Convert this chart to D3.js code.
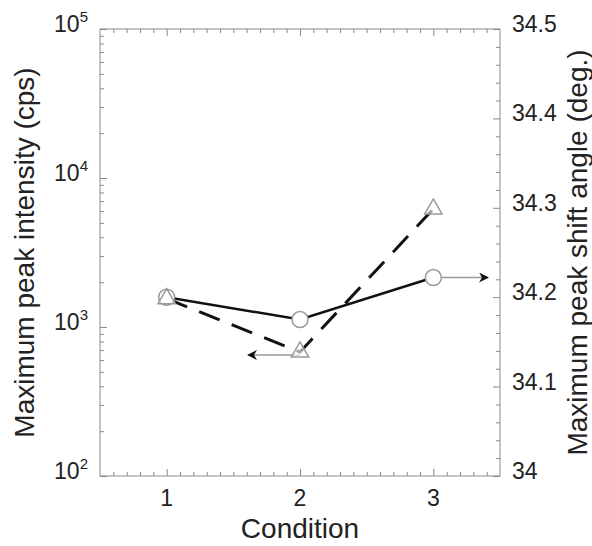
<!DOCTYPE html>
<html>
<head>
<meta charset="utf-8">
<script src="https://cdn.jsdelivr.net/npm/d3@7"></script>
<style>
  body { margin: 0; background: #fff; }
  svg text { font-family: "Liberation Sans", Arial, sans-serif; fill: #222; }
  .axis path { display: none; }
  .axis line { stroke: #8a8a8a; stroke-width: 1; }
</style>
</head>
<body>
<div id="chart"></div>
<script>
// data
const conditions = [1, 2, 3];
const intensity = [1550, 680, 6200];        // left axis, cps (triangles, dashed)
const shiftAngle = [34.2, 34.175, 34.222];  // right axis, deg. (circles, solid)
const xTicks = [1, 2, 3];
const leftTicks = [1e2, 1e3, 1e4, 1e5];
const rightTicks = [34, 34.1, 34.2, 34.3, 34.4, 34.5];

const width = 592, height = 546;
const margin = { top: 29, right: 92, bottom: 70, left: 100 };
const innerW = width - margin.left - margin.right;
const innerH = height - margin.top - margin.bottom;

const svg = d3.select('#chart').append('svg')
  .attr('width', width)
  .attr('height', height);

const plot = svg.append('g')
  .attr('transform', `translate(${margin.left},${margin.top})`);

const x = d3.scaleLinear().domain([0.5, 3.5]).range([0, innerW]);
const yL = d3.scaleLog().domain([1e2, 1e5]).range([innerH, 0]);
const yR = d3.scaleLinear().domain([34, 34.5]).range([innerH, 0]);

// minor tick values
const xMinor = d3.range(6, 35).map(d => d / 10).filter(d => !xTicks.includes(d));
const lMinor = [];
[1e2, 1e3, 1e4].forEach(dec => { for (let k = 2; k <= 9; k++) lMinor.push(dec * k); });
const rMinor = d3.range(0, 26).map(i => 34 + i * 0.02).filter(v => Math.abs(Math.round(v * 10) - v * 10) > 1e-6);

// ticks pointing inward
function tickAxis(axisFn, scale, values, size, transform) {
  plot.append('g')
    .attr('class', 'axis')
    .attr('transform', transform || null)
    .call(axisFn(scale).tickValues(values).tickSize(size).tickFormat(''));
}
tickAxis(d3.axisBottom, x, xTicks, -7, `translate(0,${innerH})`);
tickAxis(d3.axisBottom, x, xMinor, -4, `translate(0,${innerH})`);
tickAxis(d3.axisTop, x, xTicks, -7);
tickAxis(d3.axisTop, x, xMinor, -4);
tickAxis(d3.axisLeft, yL, leftTicks, -7);
tickAxis(d3.axisLeft, yL, lMinor, -4);
tickAxis(d3.axisRight, yR, rightTicks, -7, `translate(${innerW},0)`);
tickAxis(d3.axisRight, yR, rMinor, -4, `translate(${innerW},0)`);

// frame
plot.append('rect')
  .attr('width', innerW)
  .attr('height', innerH)
  .attr('fill', 'none')
  .attr('stroke', '#8a8a8a')
  .attr('stroke-width', 1);

// tick labels
plot.append('g').selectAll('text')
  .data(xTicks)
  .join('text')
  .attr('x', d => x(d))
  .attr('y', innerH + 30)
  .attr('text-anchor', 'middle')
  .attr('font-size', 23)
  .text(d => d);

const leftLabels = plot.append('g').selectAll('text')
  .data(leftTicks)
  .join('text')
  .attr('x', -12)
  .attr('y', d => yL(d) + 3)
  .attr('text-anchor', 'end')
  .attr('font-size', 23);
leftLabels.append('tspan').text('10');
leftLabels.append('tspan')
  .attr('font-size', 15)
  .attr('dy', -10)
  .text(d => Math.round(Math.log10(d)));

plot.append('g').selectAll('text')
  .data(rightTicks)
  .join('text')
  .attr('x', innerW + 12)
  .attr('y', d => yR(d) + 3)
  .attr('font-size', 23)
  .text(d => d3.format('~g')(d));

// axis titles
svg.append('text')
  .attr('x', margin.left + innerW / 2)
  .attr('y', height - 8)
  .attr('text-anchor', 'middle')
  .attr('font-size', 28)
  .text('Condition');

svg.append('text')
  .attr('transform', `translate(34,${margin.top + innerH / 2}) rotate(-90)`)
  .attr('text-anchor', 'middle')
  .attr('font-size', 28)
  .text('Maximum peak intensity (cps)');

svg.append('text')
  .attr('transform', `translate(587,${margin.top + innerH / 2}) rotate(-90)`)
  .attr('text-anchor', 'middle')
  .attr('font-size', 28)
  .text('Maximum peak shift angle (deg.)');

// series lines
const triData = conditions.map((c, i) => [c, intensity[i]]);
const cirData = conditions.map((c, i) => [c, shiftAngle[i]]);

plot.append('path')
  .datum(triData)
  .attr('fill', 'none')
  .attr('stroke', '#111')
  .attr('stroke-width', 3)
  .attr('stroke-dasharray', '22,13')
  .attr('d', d3.line().x(d => x(d[0])).y(d => yL(d[1])));

plot.append('path')
  .datum(cirData)
  .attr('fill', 'none')
  .attr('stroke', '#111')
  .attr('stroke-width', 2.5)
  .attr('d', d3.line().x(d => x(d[0])).y(d => yR(d[1])));

// arrows pointing to the axis each series belongs to
const defs = svg.append('defs');
defs.append('marker')
  .attr('id', 'head')
  .attr('viewBox', '0 0 10 10')
  .attr('refX', 9).attr('refY', 5)
  .attr('markerWidth', 12).attr('markerHeight', 10)
  .attr('markerUnits', 'userSpaceOnUse')
  .attr('orient', 'auto')
  .append('path')
  .attr('d', 'M0,0 L10,5 L0,10 L3,5 Z')
  .attr('fill', '#111');

plot.append('line')
  .attr('x1', x(3)).attr('x2', x(3.41))
  .attr('y1', yR(shiftAngle[2])).attr('y2', yR(shiftAngle[2]))
  .attr('stroke', '#999').attr('stroke-width', 1.5)
  .attr('marker-end', 'url(#head)');

plot.append('line')
  .attr('x1', x(2)).attr('x2', x(1.61))
  .attr('y1', yL(intensity[1]) + 3).attr('y2', yL(intensity[1]) + 3)
  .attr('stroke', '#999').attr('stroke-width', 1.5)
  .attr('marker-end', 'url(#head)');

// markers
plot.append('g').selectAll('circle')
  .data(cirData)
  .join('circle')
  .attr('cx', d => x(d[0]))
  .attr('cy', d => yR(d[1]))
  .attr('r', 8)
  .attr('fill', '#fff')
  .attr('stroke', '#999')
  .attr('stroke-width', 1.5);

plot.append('g').selectAll('path')
  .data(triData)
  .join('path')
  .attr('transform', d => `translate(${x(d[0])},${yL(d[1])})`)
  .attr('d', d3.symbol(d3.symbolTriangle, 130))
  .attr('fill', '#fff')
  .attr('fill-opacity', 0.6)
  .attr('stroke', '#999')
  .attr('stroke-width', 1.5);
</script>
</body>
</html>
